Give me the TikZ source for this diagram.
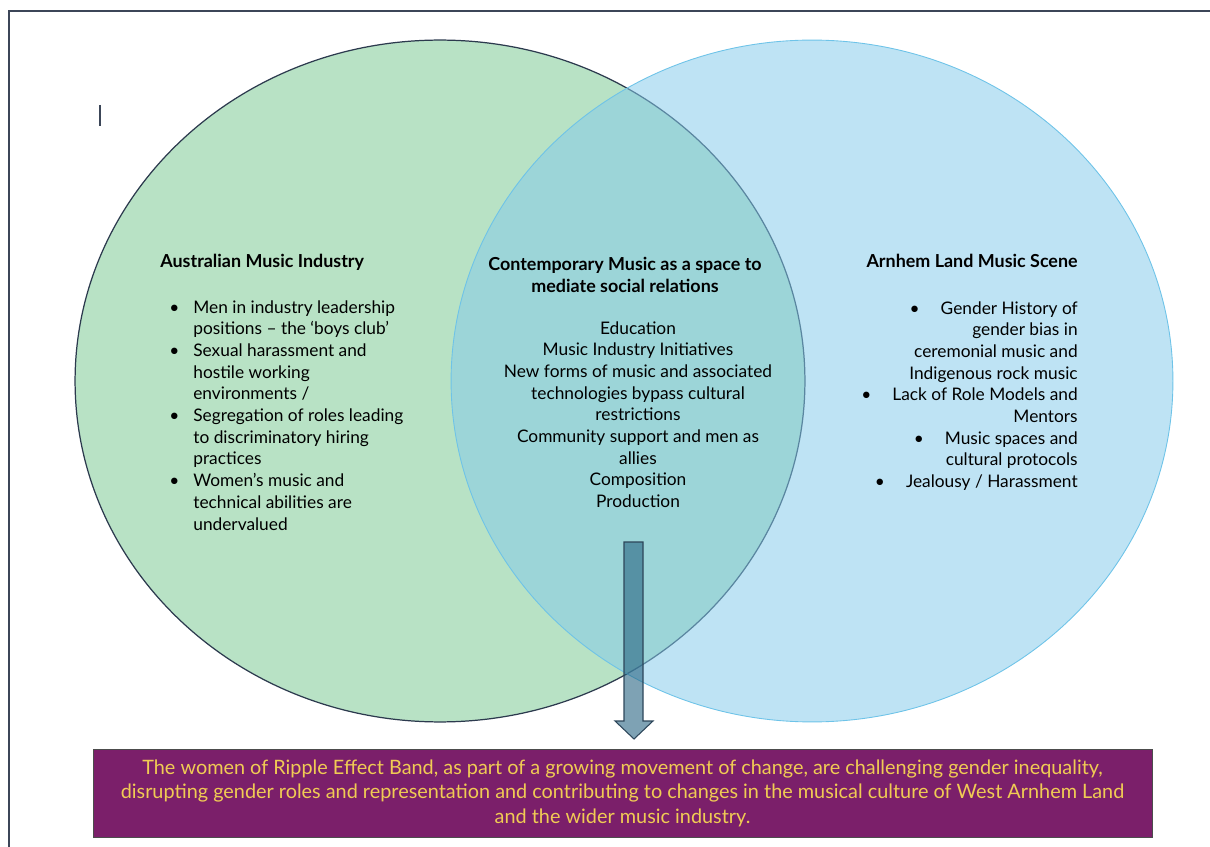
\documentclass[tikz,border=0pt]{standalone}
\usepackage{fontspec}
\setmainfont{Lato}
\usetikzlibrary{shapes.geometric, positioning}

\definecolor{venngreen}{RGB}{184,226,197}
\definecolor{greenline}{RGB}{44,58,78}
\definecolor{vennblue}{RGB}{132,202,234}
\definecolor{blueline}{RGB}{110,195,232}
\definecolor{arrowblue}{RGB}{40,100,130}
\definecolor{arrowline}{RGB}{45,70,90}
\definecolor{bandpurple}{RGB}{123,31,106}
\definecolor{bandgold}{RGB}{240,203,84}
\definecolor{frameline}{RGB}{60,70,88}

% bullet and hanging indent for the list lines
\newcommand{\blt}{\makebox[0.48cm][l]{\textbullet}}
\newcommand{\ind}{\hspace*{0.48cm}}

\tikzset{
  frame/.style={draw=frameline, line width=0.045cm},
  setA/.style={ellipse, fill=venngreen, draw=greenline, line width=0.7pt,
    minimum width=14.6cm, minimum height=13.64cm},
  setB/.style={ellipse, fill=vennblue, fill opacity=0.53, draw=blueline, line width=0.5pt,
    minimum width=14.44cm, minimum height=13.64cm},
  heading/.style={font=\fontsize{10.2}{12.2}\selectfont\bfseries, inner sep=0},
  body/.style={font=\fontsize{9.85}{12.35}\selectfont, inner sep=0},
  outcome/.style={fill=bandpurple, draw=black!70, line width=0.4pt, text=bandgold,
    align=center, inner sep=0, font=\fontsize{11.3}{13.9}\selectfont,
    minimum width=21.18cm, minimum height=1.76cm},
  downarrow/.style={fill=arrowblue, fill opacity=0.6, draw=arrowline, line width=0.6pt}
}

\begin{document}
\begin{tikzpicture}[x=0.02cm, y=-0.02cm]
  \useasboundingbox (0,0) rectangle (1210,847);
  \draw[frame] (9,847) |- (1210,11);
  \draw[frameline, line width=0.6pt] (100,105) -- (100,126);

  % Sets
  \node[setA] (industry) at (440,381) {};
  \node[setB] (arnhem) at (812,381) {};

  % Labels
  \node[heading, anchor=base west] (ausT) at (160,268) {Australian Music Industry};
  \node[body, align=left, anchor=north west] (ausL) at (169,300) {%
    \blt Men in industry leadership\\
    \ind positions -- the ‘boys club’\\
    \blt Sexual harassment and\\
    \ind hostile working\\
    \ind environments /\\
    \blt Segregation of roles leading\\
    \ind to discriminatory hiring\\
    \ind practices\\
    \blt Women’s music and\\
    \ind technical abilities are\\
    \ind undervalued};

  \node[heading, align=center, anchor=north] (midT) at (625,257)
    {Contemporary Music as a space to\\ mediate social relations};
  \node[body, align=center, anchor=north] (midL) at (638,321) {%
    Education\\
    Music Industry Initiatives\\
    New forms of music and associated\\
    technologies bypass cultural\\
    restrictions\\
    Community support and men as\\
    allies\\
    Composition\\
    Production};

  \node[heading, anchor=base east] (arnT) at (1078,268) {Arnhem Land Music Scene};
  \node[body, align=right, anchor=north east] (arnL) at (1078,301) {%
    \textbullet\hspace{0.42cm}Gender History of\\
    gender bias in\\
    ceremonial music and\\
    Indigenous rock music\\
    \textbullet\hspace{0.42cm}Lack of Role Models and\\
    Mentors\\
    \textbullet\hspace{0.42cm}Music spaces and\\
    cultural protocols\\
    \textbullet\hspace{0.42cm}Jealousy / Harassment};

  % Arrow down to the outcome
  \draw[downarrow] (624,542) -- ++(19,0) -- ++(0,179) -- ++(10,0)
    -- (634,739) -- (615,721) -- ++(9,0) -- cycle;

  % Outcome box
  \node[outcome] (band) at (622.5,793) {%
    The women of Ripple Effect Band, as part of a growing movement of change, are challenging gender inequality,\\
    disrupting gender roles and representation and contributing to changes in the musical culture of West Arnhem Land\\
    and the wider music industry.};
\end{tikzpicture}
\end{document}
